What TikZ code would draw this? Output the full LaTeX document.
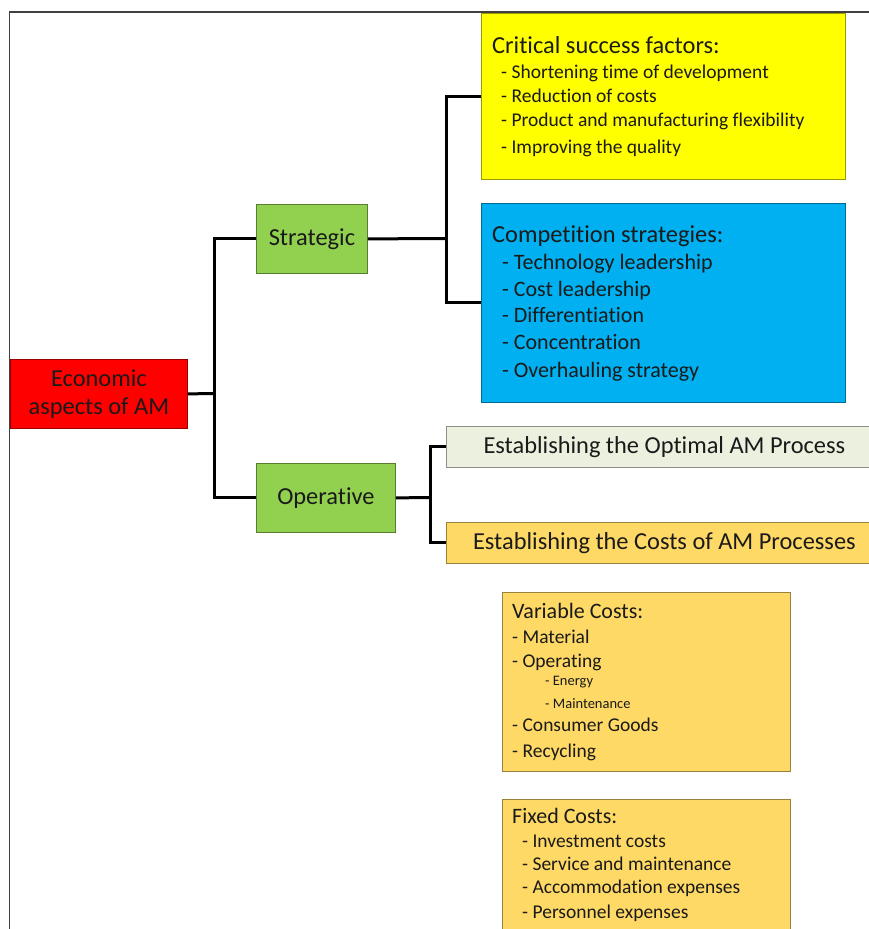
\documentclass[tikz,border=0pt]{standalone}
\usepackage{fontspec}
\setmainfont{Carlito}[RawFeature={-liga;-clig;-calt;-dlig;-rlig}]
\definecolor{cRed}{HTML}{FF0000}
\definecolor{cGreen}{HTML}{92D050}
\definecolor{cYellow}{HTML}{FFFF00}
\definecolor{cBlue}{HTML}{00B0F0}
\definecolor{cPale}{HTML}{EBF1DE}
\definecolor{cGold}{HTML}{FFD966}
\definecolor{ink}{HTML}{1A1A1A}
\definecolor{frameC}{HTML}{404040}
\begin{document}
\begin{tikzpicture}[x=1pt,y=-1pt,
  box/.style={draw=#1!60!black, line width=0.8pt, fill=#1, inner sep=0pt, anchor=north west, text=ink},
  fA/.style={font=\fontsize{24.4}{28}\selectfont},
  fB/.style={font=\fontsize{22}{26}\selectfont},
  fC/.style={font=\fontsize{19.5}{23}\selectfont},
  fD/.style={font=\fontsize{14.5}{17}\selectfont},
  txt/.style={anchor=base west, inner sep=0pt, text=ink},
  link/.style={draw=black, line width=3pt},
  frame/.style={draw=frameC, line width=1.5pt}]
\useasboundingbox (0,0) rectangle (869,929);
\clip (0,0) rectangle (869,929);
\fill[white] (0,0) rectangle (869,929);
\draw[frame] (9.5,929) -- (9.5,12) -- (869,12);

% main nodes
\node[box=cRed, fA, minimum width=177pt, minimum height=69pt, align=center] (eco) at (10,359) {Economic\\aspects of AM};
\node[box=cGreen, fA, minimum width=111pt, minimum height=69pt] (strat) at (256,204) {Strategic};
\node[box=cGreen, fA, minimum width=139pt, minimum height=69pt] (oper) at (256,463) {Operative};

% strategic boxes
\node[box=cYellow, minimum width=364pt, minimum height=166pt] (yel) at (481,13) {};
\node[box=cBlue, minimum width=364pt, minimum height=199pt] (blu) at (481,203) {};

% operative boxes
\node[box=cPale, fA, minimum width=436pt, minimum height=41pt] (opt) at (446,426) {Establishing the Optimal AM Process};
\node[box=cGold, fA, minimum width=436pt, minimum height=41pt] (cst) at (446,522) {Establishing the Costs of AM Processes};

% cost boxes
\node[box=cGold, minimum width=288pt, minimum height=179pt] (var) at (502,592) {};
\node[box=cGold, minimum width=288pt, minimum height=160pt] (fix) at (502,799) {};

% connectors
\coordinate (j1) at (214,393.5);
\coordinate (j2) at (446,238.5);
\coordinate (j3) at (430,497.5);
\draw[link] (eco.east) -- (j1);
\draw[link] (strat.west) -| (j1) |- (oper.west);
\draw[link] (strat.east) -- (j2);
\draw[link] (yel.west) -| (j2) |- (blu.west);
\draw[link] (oper.east) -- (j3);
\draw[link] (opt.west) -| (j3) |- (cst.west);

% yellow texts
\node[txt, fA] (y0) at (492,53) {Critical success factors:};
\node[txt, fC] (y1) at (501,78) {- Shortening time of development};
\node[txt, fC] (y2) at (501,102) {- Reduction of costs};
\node[txt, fC] (y3) at (501,126) {- Product and manufacturing flexibility};
\node[txt, fC] (y4) at (501,153) {- Improving the quality};

% blue texts
\node[txt, fA] (b0) at (492,242) {Competition strategies:};
\node[txt, fB] (b1) at (502,269) {- Technology leadership};
\node[txt, fB] (b2) at (502,296) {- Cost leadership};
\node[txt, fB] (b3) at (502,322) {- Differentiation};
\node[txt, fB] (b4) at (502,349) {- Concentration};
\node[txt, fB] (b5) at (502,377) {- Overhauling strategy};

% variable costs texts
\node[txt, fB] (v0) at (512,618) {Variable Costs:};
\node[txt, fC] (v1) at (512,643) {- Material};
\node[txt, fC] (v2) at (512,667) {- Operating};
\node[txt, fD] (v3) at (545,685) {- Energy};
\node[txt, fD] (v4) at (545,708) {- Maintenance};
\node[txt, fC] (v5) at (512,731) {- Consumer Goods};
\node[txt, fC] (v6) at (512,757) {- Recycling};

% fixed costs texts
\node[txt, fB] (f0) at (512,823) {Fixed Costs:};
\node[txt, fC] (f1) at (522,847) {- Investment costs};
\node[txt, fC] (f2) at (522,870) {- Service and maintenance};
\node[txt, fC] (f3) at (522,893) {- Accommodation expenses};
\node[txt, fC] (f4) at (522,918) {- Personnel expenses};
\end{tikzpicture}
\end{document}
